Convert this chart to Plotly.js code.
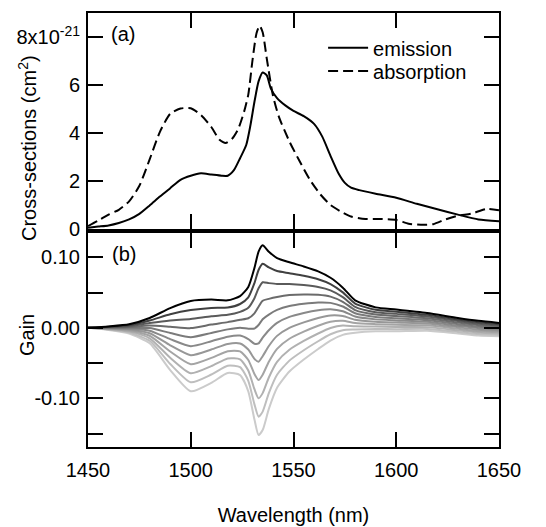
<!DOCTYPE html>
<html>
<head>
<meta charset="utf-8">
<script src="https://cdn.plot.ly/plotly-3.0.1.min.js"></script>
<style>html,body{margin:0;padding:0;background:#fff;}</style>
</head>
<body>
<div id="chart" style="width:546px;height:527px;"></div>
<script>
// ---- Panel (a): cross-sections (units of 1e-21 cm^2) ----
const emissionWl = [1450,1455,1460,1465,1470,1475,1480,1485,1490,1495,1500,1505,1510,1515,1518,1521,1524,1527,1529,1531,1533,1535,1537,1539,1542,1546,1550,1555,1560,1564,1568,1572,1575,1578,1582,1590,1600,1610,1620,1630,1640,1650];
const emissionVal = [0.05,0.1,0.15,0.25,0.4,0.63,0.98,1.35,1.7,2.05,2.22,2.32,2.27,2.22,2.22,2.45,2.95,3.5,4.3,5.3,6.15,6.52,6.4,5.85,5.45,5.15,4.92,4.7,4.38,3.85,3.05,2.3,1.92,1.72,1.62,1.47,1.3,1.05,0.82,0.6,0.4,0.32];

const absorptionWl = [1450,1455,1460,1465,1470,1475,1480,1485,1490,1495,1500,1505,1510,1514,1517,1520,1523,1526,1528,1530,1532,1533.5,1535,1537,1540,1543,1548,1553,1558,1563,1568,1573,1578,1585,1592,1600,1606,1612,1618,1624,1630,1637,1644,1650];
const absorptionVal = [0.12,0.35,0.6,0.8,1.15,1.8,2.9,4.05,4.8,5.02,5.03,4.75,4.25,3.72,3.58,3.75,4.15,4.9,5.6,7.0,8.16,8.47,8.2,7.1,5.56,4.65,3.65,2.82,2.05,1.45,1.0,0.73,0.52,0.42,0.42,0.38,0.22,0.18,0.2,0.4,0.55,0.65,0.84,0.78];

// ---- Panel (b): gain spectra, lightest (g00) to black (g10) ----
const gainWl = [1450,1460,1470,1480,1490,1500,1510,1518,1524,1528,1531,1533,1535,1538,1542,1548,1555,1562,1568,1574,1580,1590,1600,1615,1630,1640,1650];
const g00 = [0,-0.003,-0.008,-0.022,-0.060,-0.090,-0.078,-0.064,-0.067,-0.090,-0.130,-0.152,-0.145,-0.115,-0.085,-0.062,-0.045,-0.030,-0.018,-0.010,-0.007,-0.005,-0.005,-0.004,-0.008,-0.011,-0.012];
const g01 = [0,-0.0025,-0.0067,-0.0184,-0.0512,-0.0772,-0.0662,-0.0537,-0.0558,-0.0752,-0.1085,-0.126,-0.1188,-0.0927,-0.0666,-0.0465,-0.0318,-0.019,-0.0091,-0.0033,-0.0024,-0.0016,-0.0019,-0.0015,-0.0058,-0.0089,-0.0101];
const g02 = [0,-0.002,-0.0054,-0.0148,-0.0424,-0.0644,-0.0544,-0.0434,-0.0446,-0.0604,-0.087,-0.100,-0.0926,-0.0704,-0.0482,-0.031,-0.0186,-0.008,-0.0002,0.0034,0.0022,0.0018,0.0012,0.001,-0.0036,-0.0068,-0.0082];
const g03 = [0,-0.0015,-0.0041,-0.0112,-0.0336,-0.0516,-0.0426,-0.0331,-0.0334,-0.0456,-0.0655,-0.074,-0.0664,-0.0481,-0.0298,-0.0155,-0.0054,0.003,0.0087,0.0101,0.0068,0.0052,0.0043,0.0035,-0.0014,-0.0047,-0.0063];
const g04 = [0,-0.001,-0.0028,-0.0076,-0.0248,-0.0388,-0.0308,-0.0228,-0.0222,-0.0308,-0.044,-0.048,-0.0402,-0.0258,-0.0114,0.000,0.0078,0.014,0.0176,0.0168,0.0114,0.0086,0.0074,0.006,0.0008,-0.0026,-0.0044];
const g05 = [0,-0.0005,-0.0015,-0.004,-0.016,-0.026,-0.019,-0.0125,-0.011,-0.016,-0.0225,-0.022,-0.014,-0.0035,0.007,0.0155,0.021,0.025,0.0265,0.0235,0.016,0.012,0.0105,0.0085,0.003,-0.0005,-0.0025];
const g06 = [0,0,-0.0002,-0.0004,-0.0072,-0.0132,-0.0072,-0.0022,0.0002,-0.0012,-0.001,0.004,0.0122,0.0188,0.0254,0.031,0.0342,0.036,0.0354,0.0302,0.0206,0.0154,0.0136,0.011,0.0052,0.0016,-0.0006];
const g07 = [0,0.0005,0.0011,0.0032,0.0016,-0.0004,0.0046,0.0081,0.0114,0.0136,0.0205,0.030,0.0384,0.0411,0.0438,0.0465,0.0474,0.047,0.0443,0.0369,0.0252,0.0188,0.0167,0.0135,0.0074,0.0037,0.0013];
const g08 = [0,0.001,0.0024,0.0068,0.0104,0.0124,0.0164,0.0184,0.0226,0.0284,0.042,0.056,0.0646,0.0634,0.0622,0.062,0.0606,0.058,0.0532,0.0436,0.0298,0.0222,0.0198,0.016,0.0096,0.0058,0.0032];
const g09 = [0,0.0015,0.0037,0.0104,0.0192,0.0252,0.0282,0.0287,0.0338,0.0432,0.0635,0.082,0.0908,0.0857,0.0806,0.0775,0.0738,0.069,0.0621,0.0503,0.0344,0.0256,0.0229,0.0185,0.0118,0.0079,0.0051];
const g10 = [0,0.002,0.005,0.014,0.028,0.038,0.040,0.039,0.045,0.058,0.085,0.108,0.117,0.108,0.099,0.093,0.087,0.080,0.071,0.057,0.039,0.029,0.026,0.021,0.014,0.010,0.007];
const gainSeries = [g00,g01,g02,g03,g04,g05,g06,g07,g08,g09,g10];
const gainColors = ['#cbcbcb','#bebebe','#b1b1b1','#a4a4a4','#979797','#898989','#7b7b7b','#6b6b6b','#5a5a5a','#404040','#000000'];

// ---- Axis ticks and labels ----
const xTickVals = [1450,1500,1550,1600,1650];
const xTickText = ['1450','1500','1550','1600','1650'];
const csTickVals = [0,2,4,6,8];
const csTickText = ['0','2','4','6','8x10<sup>-21</sup>'];
const gainTickVals = [0.10,0.05,0,-0.05,-0.10,-0.15];
const gainTickText = ['0.10','','0.00','','-0.10',''];

const FONT = 'Liberation Sans, Arial, Helvetica, sans-serif';

const traces = [];
traces.push({x: emissionWl, y: emissionVal, name: 'emission', type: 'scatter', mode: 'lines',
  xaxis: 'x', yaxis: 'y', legend: 'legend',
  line: {color: '#000', width: 2, shape: 'spline', smoothing: 0.6}});
traces.push({x: absorptionWl, y: absorptionVal, name: 'absorption', type: 'scatter', mode: 'lines',
  xaxis: 'x', yaxis: 'y', legend: 'legend2',
  line: {color: '#000', width: 2, dash: '10px,5px', shape: 'spline', smoothing: 0.6}});
gainSeries.forEach((g, i) => {
  traces.push({x: gainWl, y: g, type: 'scatter', mode: 'lines', showlegend: false,
    name: 'gain ' + i, xaxis: 'x2', yaxis: 'y2',
    line: {color: gainColors[i], width: 2, shape: 'spline', smoothing: 0.6}});
});

const axCommon = {
  ticks: 'inside', ticklen: 15, tickwidth: 2, tickcolor: '#000',
  showline: true, linewidth: 2, linecolor: '#000', mirror: 'allticks',
  showgrid: false, zeroline: false, automargin: false,
  tickfont: {family: FONT, size: 20, color: '#000'}
};

const legendCommon = {xanchor: 'left', yanchor: 'top', bgcolor: 'rgba(0,0,0,0)',
  font: {family: FONT, size: 20, color: '#000'}, itemwidth: 40};

const layout = {
  width: 546, height: 527,
  margin: {l: 88, r: 47, t: 13, b: 80},
  paper_bgcolor: '#fff', plot_bgcolor: '#fff',
  font: {family: FONT, size: 20, color: '#000'},
  showlegend: true,
  legend: Object.assign({x: 0.572, y: 0.965}, legendCommon),
  legend2: Object.assign({x: 0.572, y: 0.9113}, legendCommon),
  xaxis: Object.assign({}, axCommon, {domain: [0, 1], anchor: 'y', range: [1450, 1650],
    tickmode: 'array', tickvals: xTickVals, showticklabels: false}),
  yaxis: Object.assign({}, axCommon, {domain: [0.5023, 1], anchor: 'x', range: [0, 9],
    tickmode: 'array', tickvals: csTickVals, ticktext: csTickText, ticklabelstandoff: 2}),
  xaxis2: Object.assign({}, axCommon, {domain: [0, 1], anchor: 'y2', range: [1450, 1650],
    tickmode: 'array', tickvals: xTickVals, ticktext: xTickText, ticklabelstandoff: 4,
    title: {text: 'Wavelength (nm)', standoff: 28, font: {family: FONT, size: 20, color: '#000'}}}),
  yaxis2: Object.assign({}, axCommon, {domain: [0, 0.4931], anchor: 'x2', range: [-0.169, 0.1345],
    tickmode: 'array', tickvals: gainTickVals, ticktext: gainTickText, ticklabelstandoff: 2}),
  annotations: [
    {text: '(a)', xref: 'paper', yref: 'paper', x: (123 - 88) / 411, y: (447 - 34) / 434,
     xanchor: 'center', yanchor: 'middle', showarrow: false, font: {family: FONT, size: 20, color: '#000'}},
    {text: '(b)', xref: 'paper', yref: 'paper', x: (124 - 88) / 411, y: (447 - 254) / 434,
     xanchor: 'center', yanchor: 'middle', showarrow: false, font: {family: FONT, size: 20, color: '#000'}},
    {text: 'Cross-sections (cm<sup>2</sup>)', textangle: -90, xref: 'paper', yref: 'paper',
     x: (27 - 88) / 411, y: (447 - 148) / 434, xanchor: 'center', yanchor: 'middle', showarrow: false,
     font: {family: FONT, size: 20, color: '#000'}},
    {text: 'Gain', textangle: -90, xref: 'paper', yref: 'paper',
     x: (27 - 88) / 411, y: (447 - 335) / 434, xanchor: 'center', yanchor: 'middle', showarrow: false,
     font: {family: FONT, size: 20, color: '#000'}}
  ]
};

Plotly.newPlot('chart', traces, layout, {displayModeBar: false, staticPlot: true});
</script>
</body>
</html>
